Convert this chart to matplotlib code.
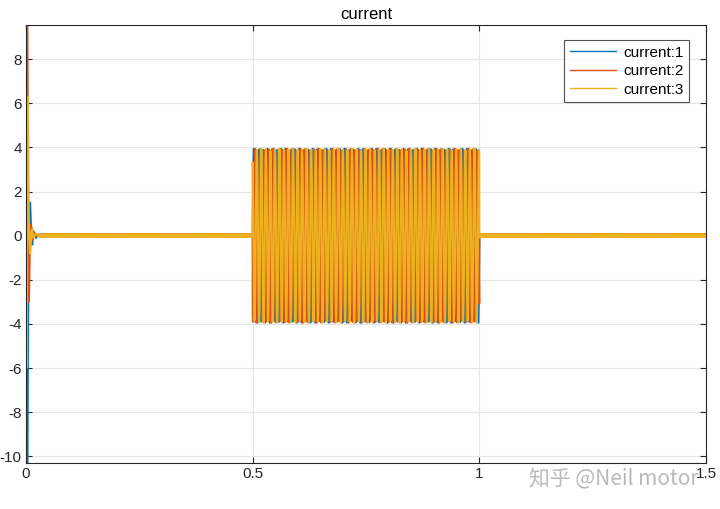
import matplotlib.pyplot as plt
import numpy as np

plt.rcParams['font.family'] = ['Liberation Sans', 'DejaVu Sans']
plt.rcParams['axes.unicode_minus'] = False

# start-up transient (seconds, amperes)
tr_t = [0, 0.001, 0.002, 0.003, 0.004, 0.005, 0.006, 0.007, 0.008, 0.009,
        0.010, 0.012, 0.014, 0.016, 0.019, 0.022, 0.026, 0.03]
tr_i1 = [0, -8, -14, -12, -6, -3, -1, 0.5, 1.2, 1.5, 1.0, -0.3, -0.4, 0.2, 0.1, -0.1, 0.05, 0]
tr_i2 = [0, 14, 16, 10, 3, -1, -3, -2.5, -1, 0.3, 0.5, 0.4, -0.2, -0.1, 0.1, 0, 0, 0]
tr_i3 = [0, -6, -4, 2, 6.3, 4, 1, 0, -0.3, -0.8, -0.6, 0.2, 0.3, -0.1, 0, 0.1, 0, 0]

# steady segments: start/end time and peak amplitude
seg_start = [0.03, 0.5, 1.0]
seg_end = [0.5, 1.0, 1.5]
seg_amp = [0.0, 3.9, 0.0]
freq_hz = 100
ripple_amp = 0.05
ripple_hz = 870
phase_deg = [0, -120, 120]

labels = ['current:1', 'current:2', 'current:3']
colors = ['#0072BD', '#D95319', '#EDB120']

dt = 0.0002
t_all = [np.array(tr_t)]
for s, e in zip(seg_start, seg_end):
    t_all.append(np.arange(s, e, dt))
t_full = np.concatenate(t_all)

fig = plt.figure(figsize=(7.2, 5.09), dpi=100)
ax = fig.add_axes([0.0361, 0.0904, 0.9445, 0.8606])

for k, tr in enumerate([tr_i1, tr_i2, tr_i3]):
    ph = np.deg2rad(phase_deg[k])
    parts = [np.array(tr)]
    for s, e, a in zip(seg_start, seg_end, seg_amp):
        tt = np.arange(s, e, dt)
        parts.append(a * np.sin(2 * np.pi * freq_hz * tt + ph)
                     + ripple_amp * np.sin(2 * np.pi * ripple_hz * tt + 2 * ph))
    ax.plot(t_full, np.concatenate(parts), color=colors[k], lw=1.5, label=labels[k])

ax.set_xlim(0, 1.5)
ax.set_ylim(-10.3, 9.55)
ax.set_xticks([0, 0.5, 1, 1.5])
ax.set_xticklabels(['0', '0.5', '1', '1.5'])
ax.set_yticks(np.arange(-10, 9, 2))
ax.grid(True, color='#e6e6e6', lw=0.8)
ax.set_axisbelow(True)
ax.tick_params(direction='in', top=True, right=True, labelsize=11, length=4,
               color='#262626', labelcolor='#262626', pad=3)
for sp in ax.spines.values():
    sp.set_color('#262626')
    sp.set_linewidth(0.8)
ax.set_title('current', fontsize=12, pad=4)

leg = ax.legend(loc='upper right', bbox_to_anchor=(0.975, 0.965), borderaxespad=0,
                fontsize=11, fancybox=False, edgecolor='#262626', handlelength=3.0,
                borderpad=0.35, labelspacing=0.3, handletextpad=0.5)
leg.get_frame().set_linewidth(0.8)
for ln in leg.get_lines():
    ln.set_linewidth(1.0)

fig.text(0.735, 0.048, '知乎 @Neil motor', fontsize=15, color='#a8a8a8', alpha=0.8,
         family=['Noto Sans CJK SC', 'DejaVu Sans'])

fig.savefig('out.png', dpi=100)
